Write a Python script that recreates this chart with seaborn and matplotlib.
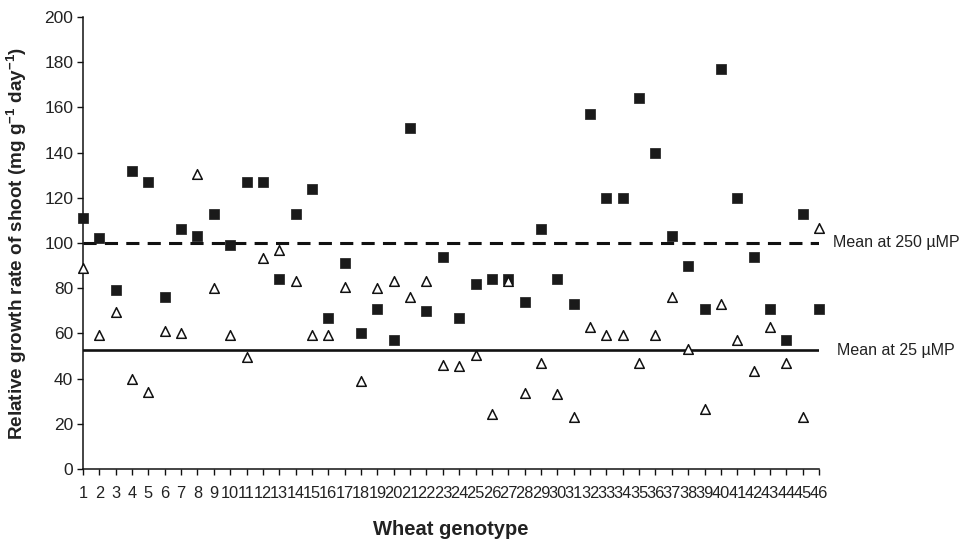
import matplotlib
matplotlib.use("Agg")
import matplotlib.pyplot as plt
import matplotlib.transforms as mtransforms
import pandas as pd
import seaborn as sns

# Relative growth rate of shoot for each wheat genotype at two P supplies
genotypes = list(range(1, 47))
rgr_250 = [111, 102, 79, 132, 127, 76, 106, 103, 113, 99, 127, 127, 84, 113, 124, 67,
           91, 60, 71, 57, 151, 70, 94, 67, 82, 84, 84, 74, 106, 84, 73, 157,
           120, 120, 164, 140, 103, 90, 71, 177, 120, 94, 71, 57, 113, 71]
rgr_25 = [89, 59.5, 69.5, 40, 34, 61, 60, 130.5, 80, 59.5, 49.5, 93.5, 97, 83, 59.5, 59.5,
          80.5, 39, 80, 83, 76, 83, 46, 45.5, 50.5, 24.5, 83, 33.5, 47, 33, 23, 63,
          59.5, 59.5, 47, 59.5, 76, 53, 26.5, 73, 57, 43.5, 63, 47, 23, 106.5]
mean_250 = 100
mean_25 = 52.5
y_ticks = [0, 20, 40, 60, 80, 100, 120, 140, 160, 180, 200]

df = pd.DataFrame({"genotype": genotypes, "rgr_250": rgr_250, "rgr_25": rgr_25})

sns.set_theme(style="ticks")
plt.rcParams["font.family"] = ["Liberation Sans", "DejaVu Sans"]
plt.rcParams["mathtext.fontset"] = "custom"
plt.rcParams["mathtext.rm"] = "Liberation Sans:bold"
plt.rcParams["mathtext.bf"] = "Liberation Sans:bold"
plt.rcParams["mathtext.default"] = "bf"

fig = plt.figure(figsize=(9.66, 5.42), dpi=100)
ax = fig.add_axes([83 / 966, 1 - 469 / 542, 736 / 966, 452 / 542])

# Mean lines
ax.axhline(mean_250, color="#111111", lw=2.2, linestyle=(0, (4.3, 2.7)), zorder=1)
ax.axhline(mean_25, color="#111111", lw=1.9, zorder=1)

sns.scatterplot(data=df, x="genotype", y="rgr_250", marker="s", s=46,
                color="#1a1a1a", edgecolor="#1a1a1a", linewidth=0.5,
                ax=ax, zorder=3, clip_on=False)
sns.scatterplot(data=df, x="genotype", y="rgr_25", marker="^", s=48,
                facecolor="white", edgecolor="#111111", linewidth=1.1,
                ax=ax, zorder=4, clip_on=False)

ax.set_xlim(1, 46)
ax.set_ylim(0, 200)
ax.set_xticks(genotypes)
ax.set_xticklabels([str(g) for g in genotypes])
ax.set_yticks(y_ticks)

sns.despine(ax=ax)
for sp in ("left", "bottom"):
    ax.spines[sp].set_linewidth(1.1)
    ax.spines[sp].set_color("#111111")

ax.tick_params(axis="both", direction="out", length=4, width=1, color="#111111",
               labelcolor="#222222")
ax.tick_params(axis="x", labelsize=11.8, pad=8)
ax.tick_params(axis="y", labelsize=12.5, pad=3)

ax.set_xlabel("Wheat genotype", fontsize=14.5, fontweight="bold", color="#222222")
ax.set_ylabel("Relative growth rate of shoot (mg g$^{-1}$ day$^{-1}$)",
              fontsize=13.6, fontweight="bold", color="#222222")
ax.xaxis.set_label_coords(0.5, -0.112)
ax.yaxis.set_label_coords(-0.074, 0.5)

trans = mtransforms.blended_transform_factory(ax.transAxes, ax.transData)
ax.text(1.019, mean_250, "Mean at 250 µMP", transform=trans, ha="left", va="center",
        fontsize=11.5, color="#222222")
ax.text(1.024, mean_25, "Mean at 25 µMP", transform=trans, ha="left", va="center",
        fontsize=11.5, color="#222222")

fig.savefig("out.png", dpi=100)
